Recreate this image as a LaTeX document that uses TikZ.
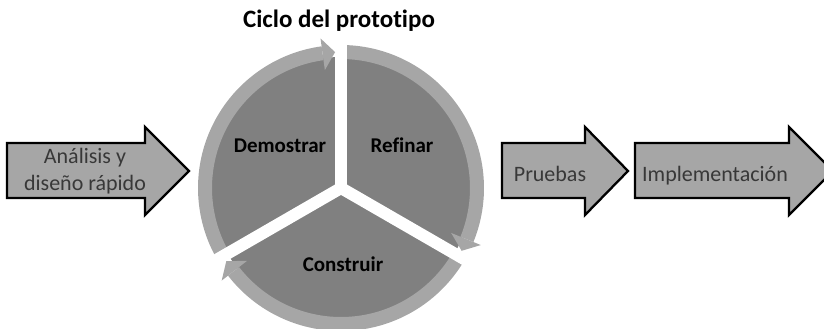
\documentclass[tikz,border=0pt]{standalone}
\usepackage{fontspec}
\setmainfont{Carlito}[Ligatures=NoCommon]
\definecolor{sectorgray}{HTML}{808080}
\definecolor{ringgray}{HTML}{A6A6A6}
\definecolor{textgray}{HTML}{383838}

\begin{document}
\begin{tikzpicture}[x=1pt, y=1pt,
  sector/.style={fill=sectorgray},
  ring/.style={fill=ringgray},
  gapline/.style={draw=white, line width=12pt},
  blockarrow/.style={draw=black, fill=ringgray, line width=2.3pt, line join=miter},
  arrowlabel/.style={font=\fontsize{22}{27}\selectfont, text=textgray, align=center, inner sep=0pt},
  phaselabel/.style={font=\fontsize{21}{25}\selectfont\bfseries, text=black, inner sep=0pt},
  titlelabel/.style={font=\fontsize{25}{30}\selectfont\bfseries, text=black, inner sep=0pt}
]
  \clip (0,0) rectangle (824,329);

  % Cycle
  \coordinate (cyc) at (341,141);
  \begin{scope}[shift={(cyc)}]
    \foreach \a in {90,-30,210}
      \fill[sector] (0,0) -- (\a:131) arc[start angle=\a, end angle=\a+120, radius=131] -- cycle;
    \foreach \a in {90,-30,210}
      \fill[ring] (\a+7.8:143) arc[start angle=\a+7.8, end angle=\a+120, radius=143]
        -- (\a+120:129) arc[start angle=\a+120, end angle=\a+7.8, radius=129] -- cycle;
    \foreach \a in {90,-30,210}
      \draw[gapline] (0,0) -- (\a:156);
    % heads, clockwise
    \foreach \a in {90,-30,210}
      \fill[ring] (\a+7.8:151) -- (\a+2.5:136) -- (\a+7.8:119) -- cycle;
  \end{scope}

  % Title
  \node[titlelabel, anchor=base] (title) at (339,301) {Ciclo del prototipo};

  % Phases
  \node[phaselabel, anchor=base] (demostrar) at (280,176) {Demostrar};
  \node[phaselabel, anchor=base] (refinar) at (402,176) {Refinar};
  \node[phaselabel, anchor=base] (construir) at (343,57) {Construir};

  % Block arrows
  \foreach \xa/\xb/\xc in {7/145/189, 502/585/628, 635/789/833}
    \draw[blockarrow] (\xa,131) -- (\xb,131) -- (\xb,114) -- (\xc,158) -- (\xb,202) -- (\xb,186) -- (\xa,186) -- cycle;

  \node[arrowlabel] (analisis) at (85,158) {Análisis y\\diseño rápido};
  \node[arrowlabel, anchor=base] (pruebas) at (550,147) {Pruebas};
  \node[arrowlabel, anchor=base] (implementacion) at (715,147) {Implementación};
\end{tikzpicture}
\end{document}
